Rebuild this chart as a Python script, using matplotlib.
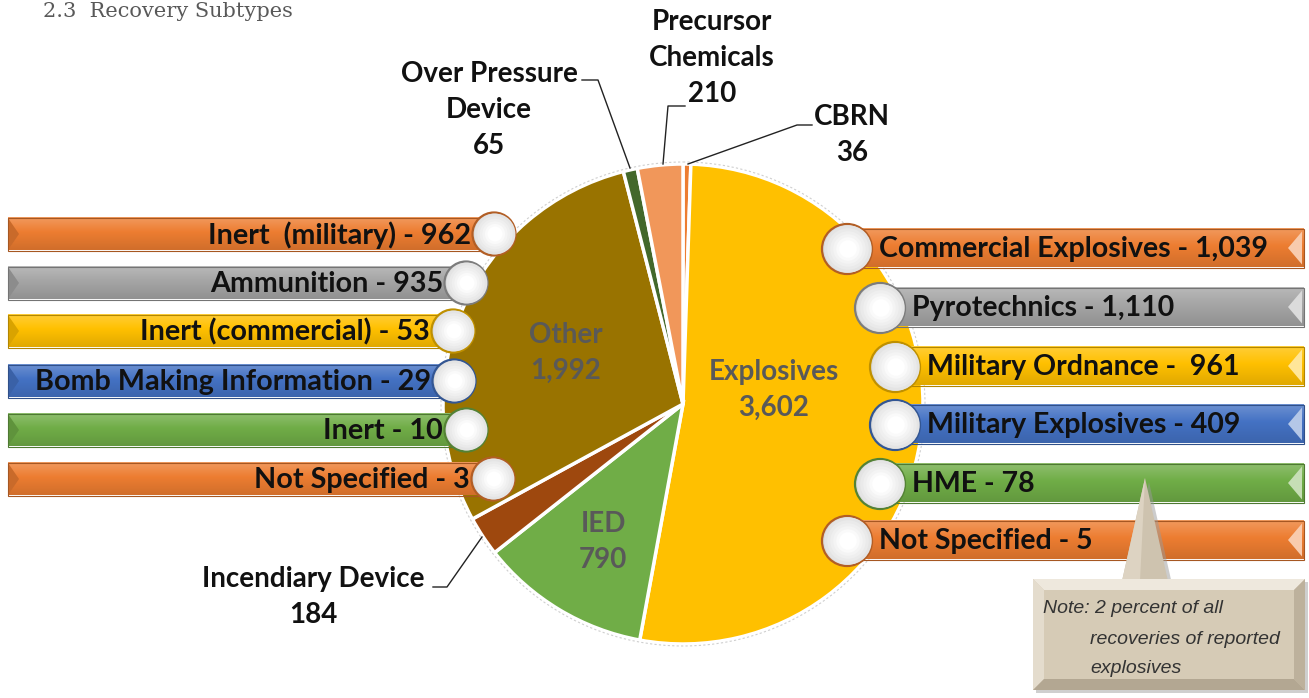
import matplotlib.pyplot as plt
import numpy as np
from matplotlib.colors import to_rgb
from matplotlib.patches import Circle, Polygon, Rectangle

plt.rcParams['font.family'] = ['Lato', 'DejaVu Sans']

# 主饼图数据 (顺时针, 从正上方开始)
main_labels = ["CBRN", "Explosives", "IED", "Incendiary Device", "Other",
               "Over Pressure Device", "Precursor Chemicals"]
main_values = [36, 3602, 790, 184, 1992, 65, 210]
main_colors = ["#ED7D31", "#FFC000", "#70AD47", "#9E480E", "#997300",
               "#43682B", "#F1975A"]

# Other 的细分
other_labels = ["Inert  (military)", "Ammunition", "Inert (commercial)",
                "Bomb Making Information", "Inert", "Not Specified"]
other_values = [962, 935, 53, 29, 10, 3]

# Explosives 的细分
expl_labels = ["Commercial Explosives", "Pyrotechnics", "Military Ordnance",
               "Military Explosives", "HME", "Not Specified"]
expl_values = [1039, 1110, 961, 409, 78, 5]
expl_seps = [" - ", " - ", " -  ", " - ", " - ", " - "]

bar_colors = ["#ED7D31", "#A5A5A5", "#FFC000", "#4472C4", "#70AD47", "#ED7D31"]

W, H = 1309, 698
fig = plt.figure(figsize=(W / 100, H / 100), dpi=100)
ax = fig.add_axes([0, 0, 1, 1])

# 饼图 (y 轴向下, 所以 startangle=270 + counterclock 即为从顶部顺时针)
cx, cy, R = 683, 404, 240
wedges, _ = ax.pie(main_values, colors=main_colors, startangle=270,
                   counterclock=True, center=(cx, cy), radius=R,
                   wedgeprops=dict(edgecolor="white", linewidth=2.5))
ax.add_patch(Circle((cx, cy), R + 2, fill=False, ec="#cfcfcf", lw=0.8,
                    ls=(0, (2, 2)), zorder=2))


def shade(color, f):
    c = np.array(to_rgb(color))
    if f >= 0:
        return tuple(c + (1 - c) * f)
    return tuple(c * (1 + f))


def gradient_bar(x0, x1, yc, h, color, side):
    base = np.array(to_rgb(color))
    light = np.array(shade(color, 0.22))
    dark = np.array(shade(color, -0.12))
    t = np.linspace(0, 1, 60)[:, None]
    col = np.where(t < 0.45, light + (base - light) * (t / 0.45),
                   base + (dark - base) * ((t - 0.45) / 0.55))
    y0, y1 = yc - h / 2, yc + h / 2
    ax.imshow(col[:, None, :], extent=(x0, x1, y1, y0), aspect="auto",
              interpolation="bilinear", zorder=3)
    ax.add_patch(Rectangle((x0, y0), x1 - x0, h, fill=False,
                           ec=shade(color, -0.3), lw=0.8, zorder=3.1))
    if side == "left":
        ax.add_patch(Polygon([(x0 + 1, y0 + 2), (x0 + 11, yc), (x0 + 1, y1 - 2)],
                             fc=shade(color, -0.15), ec="none", zorder=3.2))
    else:
        ax.add_patch(Polygon([(x1 - 2, y0 + 3), (x1 - 16, yc), (x1 - 2, y1 - 3)],
                             fc=shade(color, 0.6), ec="none", zorder=3.2))


def knob(x, y, r, color):
    ax.add_patch(Circle((x, y), r, fc="#d9d9d9", ec=shade(color, -0.25),
                        lw=1.6, zorder=5))
    for k, f in enumerate(np.linspace(0.2, 1.0, 6)):
        g = 0.87 + 0.13 * f
        ax.add_patch(Circle((x + 1, y), r * (0.95 - 0.12 * k), fc=(g, g, g),
                            ec="none", zorder=5.1 + k * 0.01))


# 左侧: Other 细分
left_y = [234, 283, 331, 381, 430, 479]
left_x = [494, 466, 453, 454, 466, 493]
for lab, val, col, y, x in zip(other_labels, other_values, bar_colors, left_y, left_x):
    gradient_bar(8, x, y, 33, col, "left")
    knob(x, y, 21.5, col)
    ax.text(x - 23, y + 1, f"{lab} - {val:,}", ha="right", va="center",
            fontsize=20.7, fontweight="bold", color="#111111", zorder=6)

# 右侧: Explosives 细分
right_y = [248, 307, 366, 424, 483, 540]
right_x = [847, 880, 895, 895, 880, 847]
for lab, sep, val, col, y, x in zip(expl_labels, expl_seps, expl_values,
                                    bar_colors, right_y, right_x):
    gradient_bar(x, 1304, y, 39, col, "right")
    knob(x, y + 1, 25, col)
    ax.text(x + 32, y + 1, f"{lab}{sep}{val:,}", ha="left", va="center",
            fontsize=20.5, fontweight="bold", color="#111111", zorder=6)

# 饼图内部标签
inner = {"Other": (566, 353), "Explosives": (774, 390), "IED": (603, 542)}
for lab, (x, y) in inner.items():
    v = main_values[main_labels.index(lab)]
    ax.text(x, y, f"{lab}\n{v:,}", ha="center", va="center", fontsize=20,
            fontweight="bold", color="#595959", linespacing=1.5, zorder=4)

# 外部标签及引导线
outer = {
    "Over Pressure Device": ("Over Pressure\nDevice", (489, 110),
                             [(582, 80), (598, 80), (630, 168)]),
    "Precursor Chemicals": ("Precursor\nChemicals", (712, 58),
                            [(685, 106), (668, 106), (663, 164)]),
    "CBRN": ("CBRN", (852, 135), [(812, 125), (797, 125), (688, 164)]),
    "Incendiary Device": ("Incendiary Device", (313, 597),
                          [(433, 587), (447, 587), (482, 537)]),
}
for key, (txt, (x, y), line) in outer.items():
    v = main_values[main_labels.index(key)]
    ax.text(x, y, f"{txt}\n{v:,}", ha="center", va="center", fontsize=20,
            fontweight="bold", color="#111111", linespacing=1.5, zorder=4)
    xs, ys = zip(*line)
    ax.plot(xs, ys, color="#222222", lw=1, zorder=4)

# 注释框
bx0, bx1, by0, by1, bv = 1033, 1305, 579, 690, 11
ax.add_patch(Polygon([(1126, 584), (1149, 482), (1172, 584)], fc="#9a9a9a",
                     ec="none", alpha=0.5, zorder=7))
ax.add_patch(Polygon([(1122, 581), (1145, 478), (1168, 581)], fc="#CEC3AF",
                     ec="none", zorder=7.1))
ax.add_patch(Polygon([(1122, 581), (1145, 478), (1140, 581)], fc="#DDD3C2",
                     ec="none", zorder=7.2))
ax.add_patch(Rectangle((bx0 + 3, by0 + 3), bx1 - bx0, by1 - by0, fc="#a0a0a0",
                       ec="none", alpha=0.5, zorder=7.3))
ax.add_patch(Rectangle((bx0, by0), bx1 - bx0, by1 - by0, fc="#D6CBB6",
                       ec="none", zorder=7.4))
ax.add_patch(Polygon([(bx0, by0), (bx1, by0), (bx1 - bv, by0 + bv), (bx0 + bv, by0 + bv)],
                     fc="#EEE8DD", ec="none", zorder=7.5))
ax.add_patch(Polygon([(bx0, by0), (bx0 + bv, by0 + bv), (bx0 + bv, by1 - bv), (bx0, by1)],
                     fc="#E4DCCD", ec="none", zorder=7.5))
ax.add_patch(Polygon([(bx1, by0), (bx1, by1), (bx1 - bv, by1 - bv), (bx1 - bv, by0 + bv)],
                     fc="#BDB19C", ec="none", zorder=7.5))
ax.add_patch(Polygon([(bx0, by1), (bx0 + bv, by1 - bv), (bx1 - bv, by1 - bv), (bx1, by1)],
                     fc="#B3A792", ec="none", zorder=7.5))
note_font = ["Liberation Sans Narrow", "Liberation Sans", "DejaVu Sans"]
ax.text(1043, 613, "Note: 2 percent of all", ha="left", va="baseline",
        fontsize=14, style="italic", family=note_font, color="#333333", zorder=9)
ax.text(1090, 644, "recoveries of reported", ha="left", va="baseline",
        fontsize=14, style="italic", family=note_font, color="#333333", zorder=9)
ax.text(1090, 673, "explosives", ha="left", va="baseline",
        fontsize=14, style="italic", family=note_font, color="#333333", zorder=9)

# 标题
ax.text(43, 17, "2.3  Recovery Subtypes", ha="left", va="baseline",
        fontsize=15, family=["DejaVu Serif"], color="#595959")

ax.set_xlim(0, W)
ax.set_ylim(H, 0)
ax.set_aspect("auto")
ax.axis("off")
fig.savefig("out.png", dpi=100)
